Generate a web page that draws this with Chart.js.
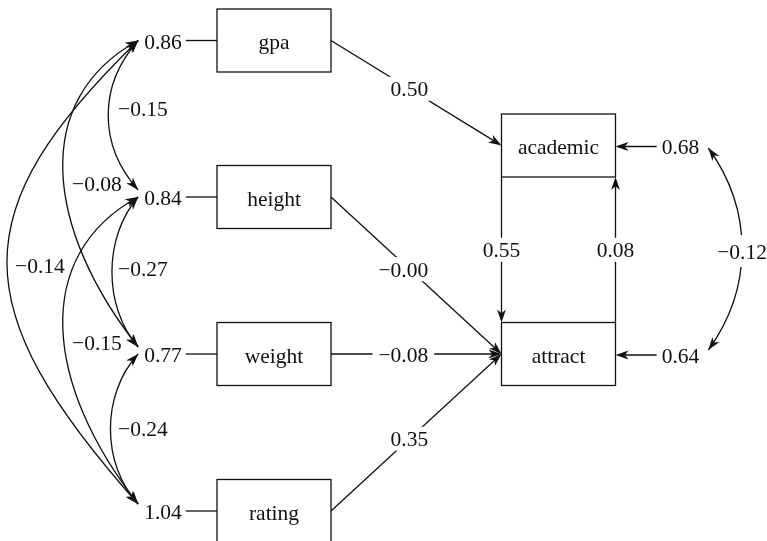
<!DOCTYPE html>
<html>
<head>
<meta charset="utf-8">
<script src="https://cdn.jsdelivr.net/npm/chart.js@4.4.1/dist/chart.umd.min.js"></script>
<style>
  html, body { margin: 0; padding: 0; background: #fff; }
  #wrap { width: 767px; height: 541px; }
</style>
</head>
<body>
<div id="wrap"><canvas id="diagram" width="767" height="541"></canvas></div>
<script>
// ── data ─────────────────────────────────────────────
const observedVars      = ['gpa', 'height', 'weight', 'rating'];
const observedVariances = [0.86, 0.84, 0.77, 1.04];
const outcomeVars       = ['academic', 'attract'];
const residualVariances = [0.68, 0.64];
const covFrom   = ['gpa', 'gpa', 'gpa', 'height', 'height', 'weight'];
const covTo     = ['height', 'weight', 'rating', 'weight', 'rating', 'rating'];
const covValues = [-0.15, -0.08, -0.14, -0.27, -0.15, -0.24];
const pathFrom   = ['gpa', 'height', 'weight', 'rating', 'academic', 'attract'];
const pathTo     = ['academic', 'attract', 'attract', 'attract', 'attract', 'academic'];
const pathValues = [0.50, -0.004, -0.08, 0.35, 0.55, 0.08];
const residualCov = -0.12;

// ── layout (diagram units, 0..767 x 0..541) ──────────
const BOX_W = 114, BOX_H = 63;
const nodeX = { gpa: 274, height: 274, weight: 274, rating: 274, academic: 558.5, attract: 558.5 };
const nodeY = { gpa: 40.5, height: 197, weight: 354, rating: 511, academic: 145.5, attract: 354 };
// covariance arcs: [k1, d1, k2, d2] control offsets (left, down / left, up)
const arcShape = [[40, 45, 40, 45], [108, 59, 93, 118], [175, 170, 175, 197],
                  [35, 40, 35, 40], [108, 59, 93, 118], [37, 40, 37, 40]];
const arcLabelAt = [[118, 108], [72, 183], [15, 265], [118, 268], [72, 342], [118, 428]];

const INK  = '#111';
const FONT = '21.5px "Liberation Serif", "Times New Roman", serif';

const fmt = v => v.toFixed(2).replace('-', '\u2212');
const allNodes = [...observedVars, ...outcomeVars];

function arrowHead(ctx, tip, from, len = 13, half = 4.4) {
  const ang = Math.atan2(tip[1] - from[1], tip[0] - from[0]);
  ctx.save();
  ctx.translate(tip[0], tip[1]);
  ctx.rotate(ang);
  ctx.beginPath();
  ctx.moveTo(0, 0);
  ctx.lineTo(-len, -half);
  ctx.lineTo(-len * 0.72, 0);
  ctx.lineTo(-len, half);
  ctx.closePath();
  ctx.fill();
  ctx.restore();
}

function seg(ctx, a, b, trimEnd = 0) {
  const dx = b[0] - a[0], dy = b[1] - a[1], L = Math.hypot(dx, dy);
  const e = [b[0] - dx / L * trimEnd, b[1] - dy / L * trimEnd];
  ctx.beginPath(); ctx.moveTo(a[0], a[1]); ctx.lineTo(e[0], e[1]); ctx.stroke();
}

// label on a line: white gap, numeric part centred on the anchor, minus hangs left
function gapLabel(ctx, s, x, y, padX = 6, padY = 12, hangMinus = true) {
  const w  = ctx.measureText(s).width;
  const w0 = ctx.measureText(s.replace('\u2212', '')).width;
  const right = hangMinus ? x + w0 / 2 : x + w / 2;
  ctx.save();
  ctx.fillStyle = '#fff';
  ctx.fillRect(right - w - padX, y - padY, w + padX * 2, padY * 2);
  ctx.restore();
  ctx.textAlign = 'right';
  ctx.fillText(s, right, y + 7.5);
}

const diagramPlugin = {
  id: 'pathDiagram',
  afterDatasetsDraw(chart) {
    const { ctx, scales } = chart;
    const pt = (a, b) => [scales.x.getPixelForValue(a), scales.y.getPixelForValue(b)];
    ctx.save();
    ctx.strokeStyle = INK;
    ctx.fillStyle = INK;
    ctx.font = FONT;
    ctx.lineWidth = 1.3;

    // boxes
    allNodes.forEach(n => {
      const [x0, y0] = pt(nodeX[n] - BOX_W / 2, nodeY[n] - BOX_H / 2);
      const [x1, y1] = pt(nodeX[n] + BOX_W / 2, nodeY[n] + BOX_H / 2);
      ctx.strokeRect(x0, y0, x1 - x0, y1 - y0);
      const [cx, cy] = pt(nodeX[n], nodeY[n]);
      ctx.textAlign = 'center';
      ctx.fillText(n, cx, cy + 8.5);
    });

    // observed variances (left)
    const arcEnd = {};
    observedVars.forEach((n, i) => {
      const s = fmt(observedVariances[i]);
      const w = ctx.measureText(s).width;
      const [lx, ly] = pt(nodeX[n] - BOX_W / 2 - 54, nodeY[n]);
      ctx.textAlign = 'center';
      ctx.fillText(s, lx, ly + 8);
      const [bx] = pt(nodeX[n] - BOX_W / 2, 0);
      seg(ctx, [lx + w / 2 + 4, ly], [bx, ly]);
      arcEnd[n] = lx - w / 2 - 6;
    });

    // covariance arcs (left)
    covFrom.forEach((a, i) => {
      const b = covTo[i];
      const [k1, d1, k2, d2] = arcShape[i];
      const p0 = pt(0, nodeY[a]); p0[0] = arcEnd[a];
      const p3 = pt(0, nodeY[b] - 7); p3[0] = arcEnd[b];
      const c1 = [p0[0] - k1, p0[1] + d1];
      const c2 = [p3[0] - k2, p3[1] - d2];
      ctx.beginPath();
      ctx.moveTo(p0[0], p0[1]);
      ctx.bezierCurveTo(c1[0], c1[1], c2[0], c2[1], p3[0], p3[1]);
      ctx.stroke();
      arrowHead(ctx, p0, c1);
      arrowHead(ctx, p3, c2);
      const [tx, ty] = pt(arcLabelAt[i][0], arcLabelAt[i][1]);
      ctx.textAlign = 'left';
      ctx.fillText(fmt(covValues[i]), tx, ty + 7.5);
    });

    // structural paths
    pathFrom.forEach((a, i) => {
      const b = pathTo[i];
      let p0, p1, t;
      if (outcomeVars.includes(a) && outcomeVars.includes(b)) {
        const down = nodeY[a] < nodeY[b];
        const x = down ? nodeX[a] - BOX_W / 2 : nodeX[a] + BOX_W / 2;
        p0 = pt(x, nodeY[a] + (down ? BOX_H / 2 : -BOX_H / 2));
        p1 = pt(x, nodeY[b] + (down ? -BOX_H / 2 : BOX_H / 2));
        t = 0.5;
      } else {
        p0 = pt(nodeX[a] + BOX_W / 2, nodeY[a]);
        p1 = pt(nodeX[b] - BOX_W / 2, nodeY[b]);
        t = 0.46;
      }
      seg(ctx, p0, p1, 3);
      arrowHead(ctx, p1, p0);
      const lx = p0[0] + (p1[0] - p0[0]) * t;
      const ly = p0[1] + (p1[1] - p0[1]) * t;
      gapLabel(ctx, fmt(pathValues[i]), lx, ly, 6, 12, t !== 0.5);
    });

    // residual variances (right)
    const rEnd = {};
    outcomeVars.forEach((n, i) => {
      const s = fmt(residualVariances[i]);
      const w = ctx.measureText(s).width;
      const [lx, ly] = pt(nodeX[n] + BOX_W / 2 + 65, nodeY[n] + 1);
      ctx.textAlign = 'center';
      ctx.fillText(s, lx, ly + 7.5);
      const [bx] = pt(nodeX[n] + BOX_W / 2, 0);
      seg(ctx, [lx - w / 2 - 5, ly], [bx, ly], 3);
      arrowHead(ctx, [bx, ly], [lx, ly]);
      rEnd[n] = [lx + w / 2 + 9, ly];
    });

    // residual covariance arc (right)
    const q0 = [rEnd.academic[0], rEnd.academic[1] + 1.5];
    const q3 = [rEnd.attract[0], rEnd.attract[1] - 5];
    const e1 = [q0[0] + 45, q0[1] + 62];
    const e2 = [q3[0] + 45, q3[1] - 62];
    ctx.beginPath();
    ctx.moveTo(q0[0], q0[1]);
    ctx.bezierCurveTo(e1[0], e1[1], e2[0], e2[1], q3[0], q3[1]);
    ctx.stroke();
    arrowHead(ctx, q0, e1);
    arrowHead(ctx, q3, e2);
    const mx = (q0[0] + 3 * e1[0] + 3 * e2[0] + q3[0]) / 8;
    const my = (q0[1] + 3 * e1[1] + 3 * e2[1] + q3[1]) / 8;
    gapLabel(ctx, fmt(residualCov), mx, my + 2, 2, 16, false);

    ctx.restore();
  }
};

new Chart(document.getElementById('diagram'), {
  type: 'scatter',
  data: {
    datasets: [{
      data: allNodes.map(n => ({ x: nodeX[n], y: nodeY[n] })),
      pointRadius: 0
    }]
  },
  options: {
    responsive: false,
    animation: false,
    devicePixelRatio: 1,
    layout: { padding: 0 },
    plugins: { legend: { display: false }, tooltip: { enabled: false } },
    scales: {
      x: { type: 'linear', min: 0, max: 767, display: false },
      y: { type: 'linear', min: 0, max: 541, reverse: true, display: false }
    }
  },
  plugins: [diagramPlugin]
});
</script>
</body>
</html>
